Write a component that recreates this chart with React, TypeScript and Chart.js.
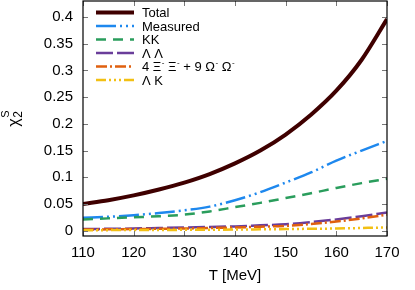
import React, { useEffect, useRef } from 'react';
import { Chart, registerables } from 'chart.js';

Chart.register(...registerables);

const temperatures = [110, 115, 120, 125, 130, 135, 140, 145, 150, 155, 160, 165, 170];
const total = [0.050, 0.057, 0.066, 0.077, 0.090, 0.106, 0.126, 0.150, 0.180, 0.217, 0.262, 0.320, 0.396];
const measured = [0.024, 0.026, 0.029, 0.033, 0.038, 0.045, 0.057, 0.072, 0.090, 0.109, 0.131, 0.150, 0.168];
const kaonKaon = [0.021, 0.023, 0.025, 0.027, 0.030, 0.036, 0.044, 0.052, 0.061, 0.070, 0.080, 0.089, 0.097];
const lambdaLambda = [0.003, 0.0035, 0.004, 0.005, 0.006, 0.007, 0.008, 0.010, 0.012, 0.016, 0.021, 0.027, 0.034];
const xiOmega = [0.002, 0.0025, 0.003, 0.0035, 0.004, 0.005, 0.006, 0.0075, 0.009, 0.0125, 0.017, 0.023, 0.030];
const lambdaKaon = [0.001, 0.001, 0.0012, 0.0014, 0.0015, 0.0018, 0.002, 0.0025, 0.003, 0.0035, 0.004, 0.005, 0.006];

const seriesLabels = ['Total', 'Measured', 'KK', 'Λ Λ', '4 Ξ⁻ Ξ⁻ + 9 Ω⁻ Ω⁻', 'Λ K'];
const xTickValues = [110, 120, 130, 140, 150, 160, 170];
const yTickValues = [0, 0.05, 0.1, 0.15, 0.2, 0.25, 0.3, 0.35, 0.4];

const FONT = '"Liberation Sans", Arial, sans-serif';

const styles = [
  { color: '#3f0000', width: 4, dash: [] as number[] },
  { color: '#1e88ee', width: 2.5, dash: [20, 4, 2, 4, 2, 4] },
  { color: '#2a9d5c', width: 2.5, dash: [10, 7] },
  { color: '#6a3d9a', width: 2.5, dash: [17, 4] },
  { color: '#e0600f', width: 2.5, dash: [11, 3, 2, 3] },
  { color: '#f2c014', width: 2.5, dash: [10, 3, 2, 3, 2, 3, 2, 3] },
];

const seriesValues = [total, measured, kaonKaon, lambdaLambda, xiOmega, lambdaKaon];

const framePlugin = {
  id: 'frameAndText',
  afterDatasetsDraw(chart: any) {
    const { ctx, chartArea: a, scales } = chart;
    const xs = scales.x;
    const ys = scales.y;
    ctx.save();
    ctx.strokeStyle = '#777';
    ctx.lineWidth = 1;
    const tl = 5;
    ctx.beginPath();
    for (const v of xTickValues) {
      const px = Math.round(xs.getPixelForValue(v)) + 0.5;
      ctx.moveTo(px, a.bottom);
      ctx.lineTo(px, a.bottom - tl);
      ctx.moveTo(px, a.top);
      ctx.lineTo(px, a.top + tl);
    }
    for (const v of yTickValues) {
      const py = Math.round(ys.getPixelForValue(v)) + 0.5;
      ctx.moveTo(a.left, py);
      ctx.lineTo(a.left + tl, py);
      ctx.moveTo(a.right, py);
      ctx.lineTo(a.right - tl, py);
    }
    ctx.stroke();
    ctx.strokeStyle = '#000';
    ctx.lineWidth = 1.2;
    ctx.strokeRect(a.left, a.top, a.right - a.left, a.bottom - a.top);

    ctx.fillStyle = '#000';
    ctx.font = `15px ${FONT}`;
    ctx.textAlign = 'center';
    ctx.textBaseline = 'middle';
    ctx.fillText('T [MeV]', (a.left + a.right) / 2, 276);

    ctx.save();
    ctx.translate(19, (a.top + a.bottom) / 2);
    ctx.rotate(-Math.PI / 2);
    ctx.textAlign = 'left';
    ctx.textBaseline = 'alphabetic';
    ctx.font = `16px ${FONT}`;
    const chiW = ctx.measureText('χ').width;
    const x0 = -(chiW + 8) / 2;
    ctx.fillText('χ', x0, 0);
    ctx.font = `12px ${FONT}`;
    ctx.fillText('2', x0 + chiW + 0.5, 2.5);
    ctx.font = `11px ${FONT}`;
    ctx.fillText('S', x0 + chiW + 0.5, -10);
    ctx.restore();

    const lx0 = 96;
    const lx1 = 134;
    const tx = 142;
    const rowY0 = 12.5;
    const rowH = 13.5;
    seriesLabels.forEach((label, i) => {
      const y = rowY0 + i * rowH;
      const st = styles[i];
      ctx.save();
      ctx.strokeStyle = st.color;
      ctx.lineWidth = st.width;
      ctx.setLineDash(st.dash);
      ctx.beginPath();
      ctx.moveTo(lx0, y);
      ctx.lineTo(lx1, y);
      ctx.stroke();
      ctx.restore();
      ctx.fillStyle = '#000';
      ctx.textAlign = 'left';
      ctx.textBaseline = 'middle';
      const parts = label.split('⁻');
      let cx = tx;
      parts.forEach((p, j) => {
        ctx.font = `13px ${FONT}`;
        ctx.fillText(p, cx, y + 1);
        cx += ctx.measureText(p).width;
        if (j < parts.length - 1) {
          ctx.font = `8px ${FONT}`;
          ctx.fillText('-', cx + 0.5, y - 4);
          cx += ctx.measureText('-').width + 0.5;
        }
      });
    });
    ctx.restore();
  },
};

export default function App() {
  const ref = useRef<HTMLCanvasElement | null>(null);
  useEffect(() => {
    if (!ref.current) return;
    const datasets = seriesValues.map((vals, i) => ({
      label: seriesLabels[i],
      data: temperatures.map((t, k) => ({ x: t, y: vals[k] })),
      borderColor: styles[i].color,
      backgroundColor: styles[i].color,
      borderWidth: styles[i].width,
      borderDash: styles[i].dash,
      pointRadius: 0,
      fill: false,
      cubicInterpolationMode: 'monotone' as const,
      order: -i,
    }));
    const chart = new Chart(ref.current, {
      type: 'line',
      data: { datasets },
      options: {
        animation: false,
        responsive: false,
        maintainAspectRatio: false,
        layout: { padding: { top: 1, right: 28, left: 0, bottom: 0 } },
        plugins: { legend: { display: false }, tooltip: { enabled: false } },
        scales: {
          x: {
            type: 'linear',
            min: 110,
            max: 170,
            grid: { display: false, drawTicks: false },
            border: { display: false },
            afterBuildTicks: (s: any) => {
              s.ticks = xTickValues.map((v) => ({ value: v }));
            },
            afterFit: (s: any) => {
              s.height = 54;
              s.paddingLeft = 0;
              s.paddingRight = 0;
              s.paddingTop = 0;
              s.paddingBottom = 0;
            },
            ticks: {
              color: '#000',
              font: { family: FONT, size: 15 },
              padding: 8,
              maxRotation: 0,
              callback: (v: any) => String(v),
            },
          },
          y: {
            type: 'linear',
            min: -0.01,
            max: 0.43,
            grid: { display: false, drawTicks: false },
            border: { display: false },
            afterBuildTicks: (s: any) => {
              s.ticks = yTickValues.map((v) => ({ value: v }));
            },
            afterFit: (s: any) => {
              s.width = 83;
              s.paddingLeft = 0;
              s.paddingRight = 0;
              s.paddingTop = 0;
              s.paddingBottom = 0;
            },
            ticks: {
              color: '#000',
              font: { family: FONT, size: 15 },
              padding: 10,
              callback: (v: any) => String(Math.round(v * 100) / 100),
            },
          },
        },
      },
      plugins: [framePlugin],
    });
    return () => chart.destroy();
  }, []);
  return (
    <div style={{ position: 'absolute', left: 0, top: 0, width: 415, height: 290, background: '#fff' }}>
      <canvas ref={ref} width={415} height={290} style={{ display: 'block' }} />
    </div>
  );
}
